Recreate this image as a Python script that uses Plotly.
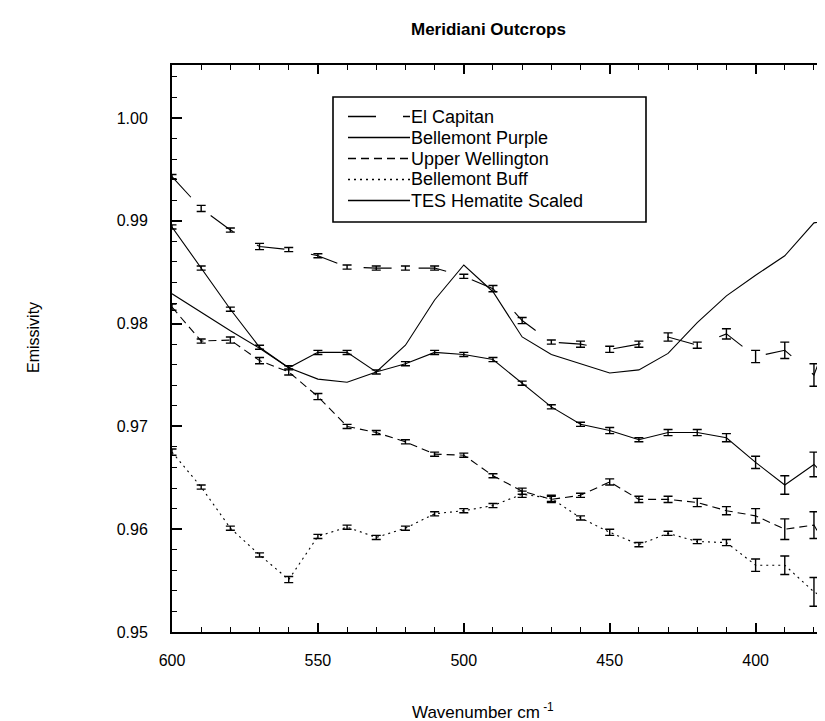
import plotly.graph_objects as go

# ---------------- data ----------------
wavenumber = [600, 590, 580, 570, 560, 550, 540, 530, 520, 510, 500, 490,
              480, 470, 460, 450, 440, 430, 420, 410, 400, 390, 380, 370]

el_capitan = [0.9943, 0.9912, 0.9891, 0.9875, 0.9872, 0.9866, 0.9855, 0.9854,
              0.9854, 0.9854, 0.9846, 0.9834, 0.9803, 0.9782, 0.9780, 0.9775,
              0.9780, 0.9787, 0.9779, 0.9790, 0.9768, 0.9774, 0.9750, 0.9825]
el_capitan_err = [0.0002, 0.0003, 0.0002, 0.0003, 0.0002, 0.0002, 0.0002, 0.0002,
                  0.0002, 0.0002, 0.0002, 0.0003, 0.0003, 0.0002, 0.0003, 0.0003,
                  0.0003, 0.0004, 0.0003, 0.0005, 0.0006, 0.0008, 0.0011, 0.0012]

bellemont_purple = [0.9894, 0.9854, 0.9814, 0.9777, 0.9757, 0.9772, 0.9772, 0.9753,
                    0.9761, 0.9772, 0.9770, 0.9765, 0.9742, 0.9719, 0.9702, 0.9696,
                    0.9687, 0.9694, 0.9694, 0.9689, 0.9665, 0.9643, 0.9663, 0.9635]
bellemont_purple_err = [0.0002, 0.0002, 0.0002, 0.0002, 0.0002, 0.0002, 0.0002, 0.0002,
                        0.0002, 0.0002, 0.0002, 0.0002, 0.0002, 0.0002, 0.0002, 0.0003,
                        0.0002, 0.0003, 0.0003, 0.0004, 0.0006, 0.0009, 0.0012, 0.0012]

upper_wellington = [0.9816, 0.9783, 0.9784, 0.9764, 0.9753, 0.9729, 0.9700, 0.9694,
                    0.9685, 0.9673, 0.9672, 0.9652, 0.9637, 0.9629, 0.9633, 0.9646,
                    0.9629, 0.9629, 0.9626, 0.9618, 0.9613, 0.9600, 0.9604, 0.9555]
upper_wellington_err = [0.0003, 0.0002, 0.0003, 0.0003, 0.0003, 0.0003, 0.0002, 0.0002,
                        0.0002, 0.0002, 0.0002, 0.0002, 0.0003, 0.0003, 0.0002, 0.0003,
                        0.0003, 0.0003, 0.0004, 0.0004, 0.0007, 0.0010, 0.0013, 0.0013]

bellemont_buff = [0.9675, 0.9641, 0.9601, 0.9575, 0.9551, 0.9593, 0.9602, 0.9592,
                  0.9601, 0.9615, 0.9618, 0.9623, 0.9634, 0.9630, 0.9611, 0.9597,
                  0.9585, 0.9596, 0.9588, 0.9587, 0.9565, 0.9565, 0.9539, 0.9524]
bellemont_buff_err = [0.0003, 0.0002, 0.0002, 0.0002, 0.0003, 0.0002, 0.0002, 0.0002,
                      0.0002, 0.0002, 0.0002, 0.0002, 0.0003, 0.0003, 0.0002, 0.0003,
                      0.0002, 0.0002, 0.0002, 0.0003, 0.0006, 0.0009, 0.0014, 0.0014]

tes_hematite = [0.9829, 0.9811, 0.9793, 0.9776, 0.9757, 0.9746, 0.9743, 0.9753,
                0.9779, 0.9823, 0.9857, 0.9831, 0.9787, 0.9770, 0.9761, 0.9752,
                0.9755, 0.9771, 0.9801, 0.9827, 0.9847, 0.9866, 0.9898, 0.9903]

x_tick_vals = [600, 550, 500, 450, 400]
y_tick_vals = [0.95, 0.96, 0.97, 0.98, 0.99, 1.00]
y_tick_text = ["0.95", "0.96", "0.97", "0.98", "0.99", "1.00"]

series_names = ["El Capitan", "Bellemont Purple", "Upper Wellington",
                "Bellemont Buff", "TES Hematite Scaled"]

# ---------------- styles ----------------
FONT = "Liberation Sans, Arial, Helvetica, sans-serif"
DASH_EC = "28px,27px"
DASH_UW = "8px,5px"
DASH_BB = "2px,4px"
dashes = [DASH_EC, "solid", DASH_UW, DASH_BB, "solid"]

W, H = 825, 721
ML, MR, MT, MB = 164, 0, 57, 97
PW, PH = W - ML - MR, H - MT - MB
PX_PER_UNIT_X = 2.918
PX_PER_UNIT_Y = 10280.0

fig = go.Figure()

def err(arr):
    return dict(type="data", array=arr, visible=True, color="black",
                thickness=1.4, width=4.5)

data_sets = [
    (el_capitan, el_capitan_err),
    (bellemont_purple, bellemont_purple_err),
    (upper_wellington, upper_wellington_err),
    (bellemont_buff, bellemont_buff_err),
]
for (vals, errs), name, dash in zip(data_sets, series_names[:4], dashes[:4]):
    fig.add_trace(go.Scatter(
        x=wavenumber, y=vals, name=name, mode="lines",
        line=dict(color="black", width=1.1, dash=dash),
        error_y=err(errs), showlegend=False))

fig.add_trace(go.Scatter(
    x=wavenumber, y=tes_hematite, name=series_names[4], mode="lines",
    line=dict(color="black", width=1.1), showlegend=False))

# ---------------- hand-made legend box ----------------
def px_x(p):
    return (p - ML) / PW

def px_y(p):
    return (H - MB - p) / PH

box = dict(x0=325, x1=638, y0=89, y1=214)
fig.add_shape(type="rect", xref="paper", yref="paper",
              x0=px_x(box["x0"]), x1=px_x(box["x1"]),
              y0=px_y(box["y1"]), y1=px_y(box["y0"]),
              line=dict(color="black", width=1.6), fillcolor="white", layer="above")

rows = [108.5, 129.5, 150.5, 171.5, 192.5]
for name, dash, r in zip(series_names, dashes, rows):
    fig.add_shape(type="line", xref="paper", yref="paper",
                  x0=px_x(340), x1=px_x(402), y0=px_y(r), y1=px_y(r),
                  line=dict(color="black", width=1.5, dash=dash), layer="above")
    fig.add_annotation(text=name, xref="paper", yref="paper",
                       x=px_x(401), y=px_y(r), xanchor="left", yanchor="middle",
                       showarrow=False, font=dict(family=FONT, size=18, color="black"))

# ---------------- titles ----------------
fig.add_annotation(text="<b>Meridiani Outcrops</b>", xref="paper", yref="paper",
                   x=px_x(480), y=px_y(22), xanchor="center", yanchor="middle",
                   showarrow=False, font=dict(family=FONT, size=17, color="black"))
fig.add_annotation(text="Emissivity", xref="paper", yref="paper",
                   x=px_x(25), y=px_y(330), xanchor="center", yanchor="middle",
                   textangle=-90, showarrow=False,
                   font=dict(family=FONT, size=16, color="black"))
fig.add_annotation(text="Wavenumber cm<sup> -1</sup>", xref="paper", yref="paper",
                   x=px_x(475), y=px_y(703), xanchor="center", yanchor="middle",
                   showarrow=False, font=dict(family=FONT, size=17, color="black"))

fig.update_layout(
    width=W, height=H,
    margin=dict(l=ML, r=MR, t=MT, b=MB, pad=0),
    paper_bgcolor="white", plot_bgcolor="white",
    showlegend=False,
    font=dict(family=FONT, size=16, color="black"),
    xaxis=dict(
        range=[600, 600 - PW / PX_PER_UNIT_X], autorange=False,
        tickvals=x_tick_vals, ticktext=[str(v) for v in x_tick_vals],
        ticks="inside", ticklen=9, tickwidth=1.5, tickcolor="black",
        minor=dict(dtick=10, tick0=600, ticks="inside", ticklen=5,
                   tickwidth=1.3, tickcolor="black", showgrid=False),
        showline=True, linecolor="black", linewidth=2, mirror="allticks",
        showgrid=False, zeroline=False, automargin=False,
        ticklabelstandoff=13, tickfont=dict(family=FONT, size=16)),
    yaxis=dict(
        range=[0.95, 0.95 + PH / PX_PER_UNIT_Y], autorange=False,
        tickvals=y_tick_vals, ticktext=y_tick_text,
        ticks="inside", ticklen=10, tickwidth=1.5, tickcolor="black",
        minor=dict(dtick=0.002, tick0=0.95, ticks="inside", ticklen=5,
                   tickwidth=1.3, tickcolor="black", showgrid=False),
        showline=True, linecolor="black", linewidth=2, mirror=False,
        showgrid=False, zeroline=False, automargin=False,
        ticklabelstandoff=19, tickfont=dict(family=FONT, size=16)),
)

fig.write_html("out.html")
